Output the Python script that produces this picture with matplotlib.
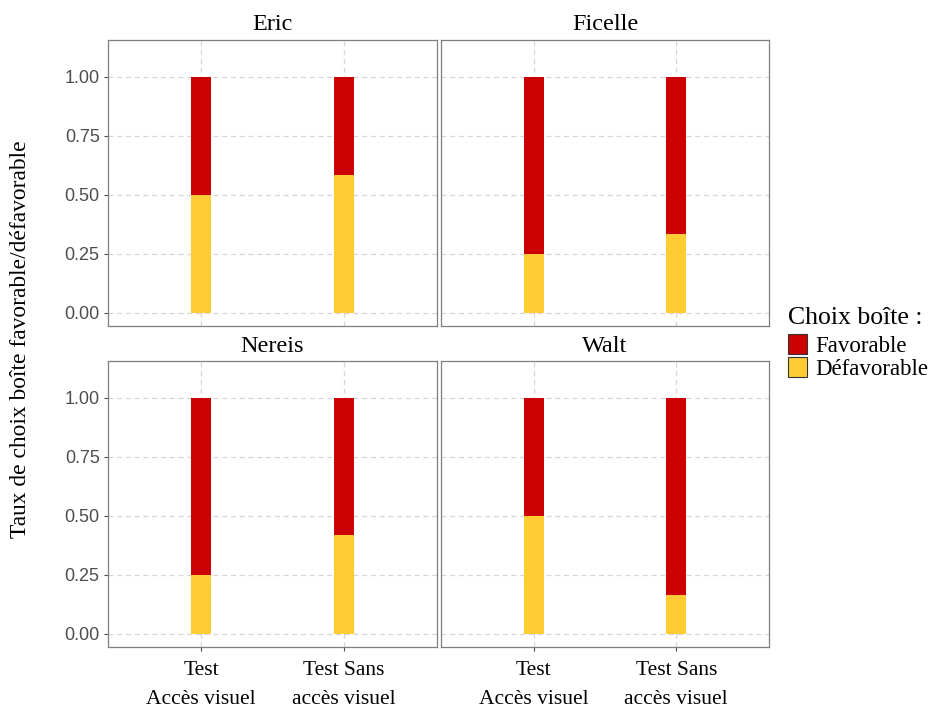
import matplotlib
matplotlib.use("Agg")
import matplotlib.pyplot as plt
from matplotlib.patches import Patch
import numpy as np

individus = ["Eric", "Ficelle", "Nereis", "Walt"]
conditions = ["Test\nAccès visuel", "Test Sans\naccès visuel"]
defavorable = {
    "Eric": [0.50, 0.583],
    "Ficelle": [0.25, 0.333],
    "Nereis": [0.25, 0.417],
    "Walt": [0.50, 0.167],
}
favorable = {k: [1 - v for v in vals] for k, vals in defavorable.items()}
yticks = [0.0, 0.25, 0.5, 0.75, 1.0]
ytick_labels = ["0.00", "0.25", "0.50", "0.75", "1.00"]

col_fav = "#CC0000"
col_def = "#FFCC33"
serif = ["Liberation Serif", "DejaVu Serif"]
sans = ["Liberation Sans", "DejaVu Sans"]

W, H = 936, 709
fig = plt.figure(figsize=(W / 100, H / 100), dpi=100)

panels = {
    "Eric": (108, 40, 437, 326),
    "Ficelle": (441, 40, 769, 326),
    "Nereis": (108, 361, 437, 647),
    "Walt": (441, 361, 769, 647),
}

x = np.arange(1, len(conditions) + 1)
for name in individus:
    x0, y0, x1, y1 = panels[name]
    ax = fig.add_axes([x0 / W, (H - y1) / H, (x1 - x0) / W, (y1 - y0) / H])
    d = defavorable[name]
    f = favorable[name]
    ax.bar(x, d, width=0.14, color=col_def, zorder=3)
    ax.bar(x, f, bottom=d, width=0.14, color=col_fav, zorder=3)
    ax.set_xlim(0.35, 2.65)
    ax.set_ylim(-0.055, 1.155)
    ax.set_yticks(yticks)
    ax.set_xticks(x)
    ax.grid(True, color="#d6d6d6", linestyle=(0, (4, 3)), linewidth=0.9, zorder=0)
    for s in ax.spines.values():
        s.set_color("#7f7f7f")
        s.set_linewidth(0.9)
    left = name in ("Eric", "Nereis")
    bottom = name in ("Nereis", "Walt")
    if left:
        ax.set_yticklabels(ytick_labels, family=sans, fontsize=13, color="#4d4d4d")
        ax.tick_params(axis="y", length=3, color="#4d4d4d", pad=3)
    else:
        ax.set_yticklabels([])
        ax.tick_params(axis="y", length=0)
    if bottom:
        ax.set_xticklabels(conditions, family=serif, fontsize=15.5, color="black",
                           linespacing=1.72)
        ax.tick_params(axis="x", length=3, color="#4d4d4d", pad=7)
    else:
        ax.set_xticklabels([])
        ax.tick_params(axis="x", length=0)
    fig.text((x0 + x1) / 2 / W, 1 - (y0 - 15) / H, name, family=serif,
             fontsize=17.5, ha="center", va="center")

fig.text(21 / W, 1 - 339 / H, "Taux de choix boîte favorable/défavorable",
         family=serif, fontsize=16.9, rotation=90, ha="center", va="center")

handles = [Patch(facecolor=col_fav, edgecolor="#333333", linewidth=0.8),
           Patch(facecolor=col_def, edgecolor="#333333", linewidth=0.8)]
leg = fig.legend(handles, ["Favorable", "Défavorable"], title="Choix boîte :",
                 loc="upper left", bbox_to_anchor=(783 / W, 1 - 302 / H),
                 frameon=False, prop={"family": serif, "size": 16.5},
                 title_fontproperties={"family": serif, "size": 18.5},
                 handlelength=0.83, handleheight=0.96, handletextpad=0.4,
                 labelspacing=0.0, borderpad=0.2, borderaxespad=0)
leg._legend_box.align = "left"
leg._legend_box.sep = 4

fig.savefig("out.png", dpi=100)
